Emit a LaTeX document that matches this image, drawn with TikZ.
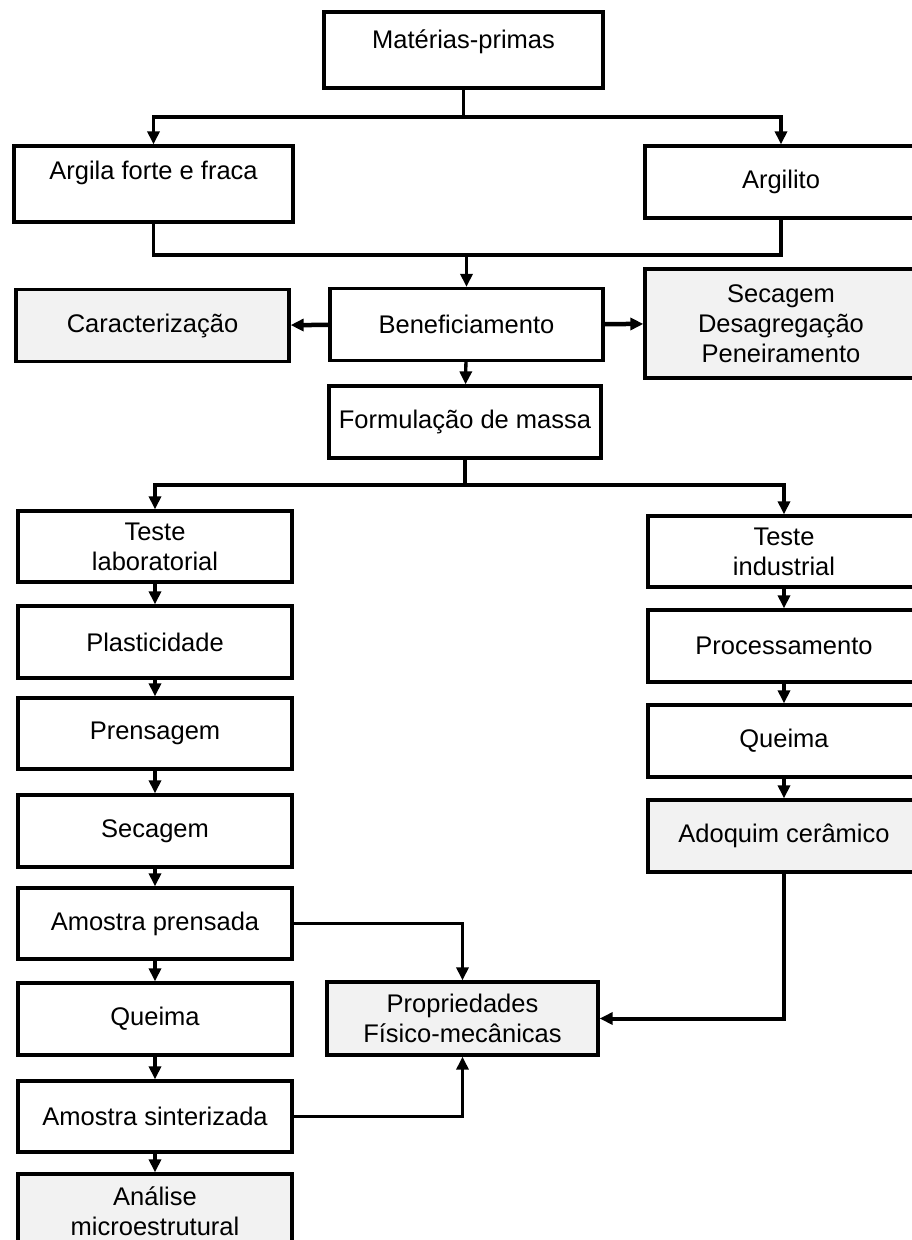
\documentclass[tikz,border=0pt]{standalone}
\usepackage{fontspec}
\setmainfont{Liberation Sans}
\usetikzlibrary{arrows.meta}

\begin{document}
\begin{tikzpicture}[x=1pt,y=-1pt,
		box/.style={draw,rectangle,line width=3.3pt,minimum width=274pt,minimum height=72pt,align=center,inner sep=0pt,font=\fontsize{25.5}{30}\selectfont},
		shade/.style={box,fill=black!5},
		ln/.style={line width=3.3pt},
		arr/.style={line width=3.3pt,-{Triangle[width=12pt,length=13pt]}}]
		\useasboundingbox (0,0) rectangle (911,1240);
		% raw materials
		\node[box,minimum width=279pt,minimum height=76pt,text height=18pt,text depth=21pt] (MP) at (463.5,50) {Matérias-primas};
		\node[box,minimum width=279pt,minimum height=76pt,text height=18pt,text depth=27pt] (AFF) at (153.5,184) {Argila forte e fraca};
		\node[box,minimum width=272pt] (ARG) at (781,182) {Argilito};
		\node[box,minimum width=273pt] (BEN) at (466.5,324.5) {Beneficiamento};
		\node[shade,minimum width=273pt] (CAR) at (152.5,325.5) {Caracterização};
		\node[shade,minimum width=272pt,minimum height=109pt] (SDP) at (781,323.5) {Secagem\\Desagregação\\Peneiramento};
		\node[box,minimum width=272pt] (FM) at (465,422) {Formulação de massa};
		% laboratory test
		\node[box,minimum height=71pt] (TL) at (155,546.5) {Teste\\laboratorial};
		\node[box] (PL) at (155,642) {Plasticidade};
		\node[box,minimum height=71pt] (PR) at (155,733.5) {Prensagem};
		\node[box] (SE) at (155,831) {Secagem};
		\node[box,minimum height=71pt] (AP) at (155,923.5) {Amostra prensada};
		\node[box] (QL) at (155,1019) {Queima};
		\node[box,minimum height=71pt] (AS) at (155,1116.5) {Amostra sinterizada};
		\node[shade,minimum height=74pt] (AM) at (155,1211) {Análise\\microestrutural};
		% industrial test
		\node[box,minimum width=272pt,minimum height=71pt] (TI) at (784,551.5) {Teste\\industrial};
		\node[box,minimum width=272pt] (PC) at (784,646) {Processamento};
		\node[box,minimum width=272pt] (QI) at (784,741) {Queima};
		\node[shade,minimum width=272pt] (AC) at (784,836) {Adoquim cerâmico};
		\node[shade,minimum width=271pt,minimum height=73pt] (PF) at (462.5,1018.5) {Propriedades\\Físico-mecânicas};
		% junctions
		\coordinate (J1) at (463.5,117);
		\coordinate (J2) at (466.5,255);
		\coordinate (J3) at (465,485);
		\draw[ln] (MP.south) -- (J1);
		\draw[arr] (J1) -| (AFF.north);
		\draw[arr] (J1) -| (ARG.north);
		\draw[ln] (AFF.south) |- (J2) -| (ARG.south);
		\draw[arr] (J2) -- (BEN.north);
		\draw[arr,line width=4.5pt] (BEN) -- (CAR);
		\draw[arr,line width=4.5pt] (BEN) -- (SDP);
		\draw[arr] (BEN) -- (FM);
		\draw[ln] (FM.south) -- (J3);
		\draw[arr] (J3) -| (TL.north);
		\draw[arr] (J3) -| (TI.north);
		\draw[arr] (TL) -- (PL);
		\draw[arr] (PL) -- (PR);
		\draw[arr] (PR) -- (SE);
		\draw[arr] (SE) -- (AP);
		\draw[arr] (AP) -- (QL);
		\draw[arr] (QL) -- (AS);
		\draw[arr] (AS) -- (AM);
		\draw[arr] (TI) -- (PC);
		\draw[arr] (PC) -- (QI);
		\draw[arr] (QI) -- (AC);
		\draw[arr] (AP.east) -| (PF.north);
		\draw[arr] (AS.east) -| (PF.south);
		\draw[arr,line width=4pt] (AC.south) |- (PF.east);
	\end{tikzpicture}
\end{document}
